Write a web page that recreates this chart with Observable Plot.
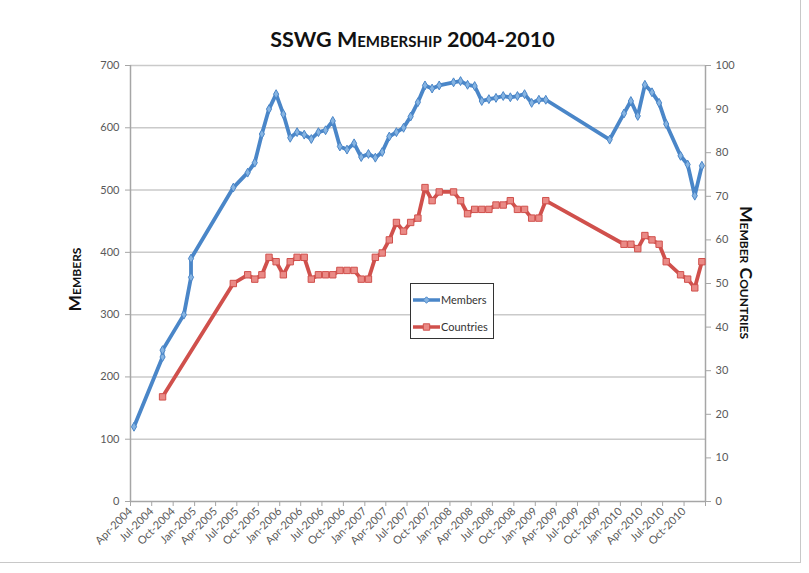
<!DOCTYPE html>
<html>
<head>
<meta charset="utf-8">
<script src="https://cdn.jsdelivr.net/npm/d3@7"></script>
<script src="https://cdn.jsdelivr.net/npm/@observablehq/plot@0.6"></script>
<style>
  html, body { margin: 0; padding: 0; background: #fff; }
  #wrap { position: relative; width: 809px; height: 573px; overflow: hidden; background: #fff; font-family: Lato, "Open Sans", sans-serif; }
  #title { position: absolute; left: 8px; top: 27px; width: 809px; text-align: center; font-size: 21.5px; font-weight: bold; font-variant: small-caps; color: #111; line-height: 24px; }
  #legend { position: absolute; left: 410px; top: 283px; }
  #frameR { position: absolute; left: 800px; top: 0; width: 1px; height: 562px; background: #c8c8c8; }
  #frameB { position: absolute; left: 0; top: 562px; width: 801px; height: 1px; background: #c8c8c8; }
</style>
</head>
<body>
<div id="wrap">
  <div id="chart"></div>
  <div id="title">SSWG Membership 2004-2010</div>
  <div id="legend"></div>
  <div id="frameR"></div>
  <div id="frameB"></div>
</div>
<script>
// ---- data ----
const memberMonths = ["2004-04","2004-08","2004-08","2004-11","2004-12","2004-12",
  "2005-06","2005-08","2005-09","2005-10","2005-11","2005-12",
  "2006-01","2006-02","2006-03","2006-04","2006-05","2006-06","2006-07","2006-08","2006-09","2006-10","2006-11","2006-12",
  "2007-01","2007-02","2007-03","2007-04","2007-05","2007-06","2007-07","2007-08","2007-09","2007-10","2007-11",
  "2008-01","2008-02","2008-03","2008-04","2008-05","2008-06","2008-07","2008-08","2008-09","2008-10","2008-11","2008-12",
  "2009-01","2009-02","2009-11",
  "2010-01","2010-02","2010-03","2010-04","2010-05","2010-06","2010-07",
  "2010-09","2010-10","2010-11","2010-12"];
const memberValues = [120,232,243,300,360,390,
  504,528,544,590,630,654,
  622,584,593,589,582,593,596,611,570,565,575,553,
  558,552,561,586,593,600,618,641,668,663,668,
  673,675,669,667,643,646,648,651,649,651,654,640,
  645,645,581,
  623,643,619,669,657,640,606,
  555,541,491,539];

const countryMonths = ["2004-08","2005-06","2005-08","2005-09","2005-10","2005-11","2005-12",
  "2006-01","2006-02","2006-03","2006-04","2006-05","2006-06","2006-07","2006-08","2006-09","2006-10","2006-11","2006-12",
  "2007-01","2007-02","2007-03","2007-04","2007-05","2007-06","2007-07","2007-08","2007-09","2007-10","2007-11",
  "2008-01","2008-02","2008-03","2008-04","2008-05","2008-06","2008-07","2008-08","2008-09","2008-10","2008-11","2008-12",
  "2009-01","2009-02",
  "2010-01","2010-02","2010-03","2010-04","2010-05","2010-06","2010-07",
  "2010-09","2010-10","2010-11","2010-12"];
const countryValues = [24,50,52,51,52,56,55,
  52,55,56,56,51,52,52,52,53,53,53,51,
  51,56,57,60,64,62,64,65,72,69,71,
  71,69,66,67,67,67,68,68,69,67,67,65,
  65,69,
  59,59,58,61,60,59,55,
  52,51,49,55];

const memberTicks = [0,100,200,300,400,500,600,700];
const countryTicks = [0,10,20,30,40,50,60,70,80,90,100];
const axisStart = "2004-04";
const axisEnd = "2011-01";
const seriesNames = ["Members","Countries"];
const titles = {left: "Members", right: "Member Countries"};

// ---- helpers ----
const monthStart = s => { const [y, m] = s.split("-").map(Number); return new Date(Date.UTC(y, m - 1, 1)); };
const monthMid = s => { const a = monthStart(s); const b = d3.utcMonth.offset(a, 1); return new Date((+a + +b) / 2); };

const members = memberMonths.map((m, i) => ({date: monthMid(m), value: memberValues[i]}));
const countries = countryMonths.map((m, i) => ({date: monthMid(m), value: countryValues[i]}));

const ratio = memberTicks[memberTicks.length - 1] / countryTicks[countryTicks.length - 1];
const x0 = monthStart(axisStart), x1 = monthStart(axisEnd);
const xTicks = d3.utcMonth.every(3).range(x0, d3.utcMonth.offset(x1, 1));
const fmt = d3.utcFormat("%b-%Y");

const blue = "#4a86c8", blueFill = "#86b4e2";
const red = "#d0504c", redFill = "#ea8a86";
const axisGray = "#a6a6a6", gridGray = "#cacaca", labelGray = "#595959";

const chart = Plot.plot({
  width: 809,
  height: 573,
  marginLeft: 130,
  marginRight: 104,
  marginTop: 65,
  marginBottom: 72,
  style: {fontFamily: "Lato, 'Open Sans', sans-serif", fontSize: "11px", background: "transparent", color: labelGray},
  x: {type: "utc", domain: [x0, x1]},
  y: {domain: [0, 700]},
  marks: [
    Plot.ruleY(memberTicks.slice(1), {stroke: gridGray, strokeWidth: 1.5}),
    Plot.axisY({anchor: "left", ticks: memberTicks, tickSize: 5, tickPadding: 6, label: null, stroke: axisGray, fill: labelGray, fontSize: 11}),
    Plot.axisY({anchor: "right", ticks: countryTicks.map(v => v * ratio), tickFormat: d => Math.round(d / ratio), tickSize: 5, tickPadding: 5, label: null, stroke: axisGray, fill: labelGray, fontSize: 11}),
    Plot.axisX({ticks: xTicks, tickFormat: d => (+d >= +x1 ? "" : fmt(d)), tickRotate: -45, tickSize: 5, tickPadding: 3, label: null, stroke: axisGray, fill: labelGray, fontSize: 11}),
    Plot.ruleX([x0, x1], {stroke: axisGray, strokeWidth: 1.5}),
    Plot.ruleY([0], {stroke: axisGray, strokeWidth: 1.5}),
    Plot.line(members, {x: "date", y: "value", stroke: blue, strokeWidth: 3.8, strokeLinejoin: "round"}),
    Plot.dot(members, {x: "date", y: "value", symbol: "diamond", r: 2.7, fill: blueFill, stroke: blue, strokeWidth: 1}),
    Plot.line(countries, {x: "date", y: d => d.value * ratio, stroke: red, strokeWidth: 3.8, strokeLinejoin: "round"}),
    Plot.dot(countries, {x: "date", y: d => d.value * ratio, symbol: "square", r: 3.6, fill: redFill, stroke: red, strokeWidth: 1}),
    Plot.text([titles.left], {frameAnchor: "left", textAnchor: "middle", dx: -55, dy: -4, rotate: -90, fontVariant: "small-caps", fontWeight: "bold", fontSize: 17.5, fill: "#111"}),
    Plot.text([titles.right], {frameAnchor: "right", textAnchor: "middle", dx: 40, dy: -11, rotate: 90, fontVariant: "small-caps", fontWeight: "bold", fontSize: 17.5, fill: "#111"})
  ]
});
document.getElementById("chart").appendChild(chart);

// ---- legend ----
const leg = d3.select("#legend").append("svg").attr("width", 84).attr("height", 56);
leg.append("rect").attr("x", 0.5).attr("y", 0.5).attr("width", 83).attr("height", 55).attr("fill", "#fff").attr("stroke", "#333");
const items = [
  {name: seriesNames[0], color: blue, fill: blueFill, sym: d3.symbolDiamond2, size: 26},
  {name: seriesNames[1], color: red, fill: redFill, sym: d3.symbolSquare2, size: 52}
];
items.forEach((it, i) => {
  const cy = 17 + i * 27;
  leg.append("line").attr("x1", 3).attr("x2", 30).attr("y1", cy).attr("y2", cy).attr("stroke", it.color).attr("stroke-width", 3.5);
  leg.append("path").attr("d", d3.symbol(it.sym, it.size)()).attr("transform", `translate(16.5,${cy})`).attr("fill", it.fill).attr("stroke", it.color);
  leg.append("text").attr("x", 31).attr("y", cy).attr("dy", "0.35em").attr("font-size", 11).attr("fill", "#333").attr("font-family", "Lato, 'Open Sans', sans-serif").text(it.name);
});
</script>
</body>
</html>
